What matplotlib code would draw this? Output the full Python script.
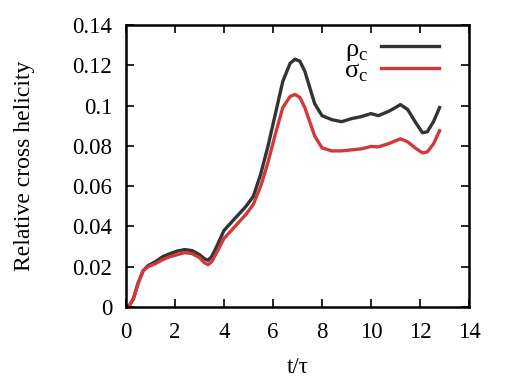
import matplotlib
matplotlib.use("Agg")
import matplotlib.pyplot as plt
from matplotlib.ticker import FuncFormatter

# values
t = [0.0, 0.15, 0.3, 0.5, 0.7, 0.9, 1.2, 1.5, 1.8, 2.1, 2.4, 2.7, 3.0, 3.2, 3.35, 3.5,
     3.7, 4.0, 4.3, 4.6, 4.9, 5.2, 5.5, 5.8, 6.1, 6.4, 6.7, 6.9, 7.1, 7.3, 7.5, 7.7,
     8.0, 8.4, 8.8, 9.2, 9.6, 10.0, 10.3, 10.7, 11.0, 11.2, 11.5, 11.8, 12.1, 12.3,
     12.55, 12.8]
rho_c = [0.0, 0.001, 0.004, 0.012, 0.018, 0.0205, 0.0225, 0.025, 0.0265, 0.0278, 0.0285,
         0.028, 0.026, 0.024, 0.0232, 0.025, 0.030, 0.038, 0.042, 0.046, 0.050, 0.055,
         0.066, 0.080, 0.096, 0.112, 0.121, 0.123, 0.122, 0.117, 0.109, 0.101, 0.095,
         0.093, 0.092, 0.0935, 0.0945, 0.096, 0.095, 0.097, 0.099, 0.1005, 0.098, 0.092,
         0.0865, 0.087, 0.092, 0.099]
sigma_c = [0.0, 0.001, 0.004, 0.012, 0.018, 0.020, 0.0215, 0.0235, 0.025, 0.026, 0.027,
           0.0265, 0.0245, 0.022, 0.021, 0.0225, 0.027, 0.034, 0.038, 0.042, 0.046, 0.051,
           0.060, 0.072, 0.086, 0.099, 0.1045, 0.1055, 0.104, 0.099, 0.092, 0.085, 0.079,
           0.0775, 0.0775, 0.078, 0.0785, 0.0797, 0.0795, 0.081, 0.0825, 0.0835, 0.082,
           0.079, 0.0765, 0.077, 0.081, 0.0875]

xticks = [0, 2, 4, 6, 8, 10, 12, 14]
yticks = [0, 0.02, 0.04, 0.06, 0.08, 0.1, 0.12, 0.14]

plt.rcParams['font.family'] = ['Liberation Serif', 'DejaVu Serif']
plt.rcParams['mathtext.fontset'] = 'custom'
plt.rcParams['mathtext.rm'] = 'Liberation Serif'

fig = plt.figure(figsize=(5.09, 3.82), dpi=100)
ax = fig.add_axes([0.2475, 0.1963, 0.6739, 0.7383])

ax.plot(t, rho_c, color='#333333', lw=2.4, label=r'ρ$_\mathrm{c}$')
ax.plot(t, sigma_c, color='#d03a3a', lw=2.4, label=r'σ$_\mathrm{c}$')

ax.set_xlim(0, 14); ax.set_ylim(0, 0.14)
ax.set_xticks(xticks); ax.set_yticks(yticks)
ax.yaxis.set_major_formatter(FuncFormatter(lambda v, p: '%g' % v))
ax.tick_params(direction='in', top=True, right=True, length=6, width=1.2,
               labelsize=16.5)
ax.tick_params(axis='y', pad=10)
ax.tick_params(axis='x', pad=11)
for s in ax.spines.values():
    s.set_linewidth(1.8)

ax.set_xlabel('t/τ', fontsize=16.5, labelpad=10)
ax.set_ylabel('Relative cross helicity', fontsize=17, labelpad=14)
ax.yaxis.set_label_coords(-0.265, 0.5)

ax.legend(loc='upper right', frameon=False, markerfirst=False, fontsize=19,
          handlelength=2.2, handletextpad=0.5, labelspacing=-0.15,
          borderaxespad=0.25, bbox_to_anchor=(0.963, 1.018))

fig.savefig('out.png', dpi=100)
